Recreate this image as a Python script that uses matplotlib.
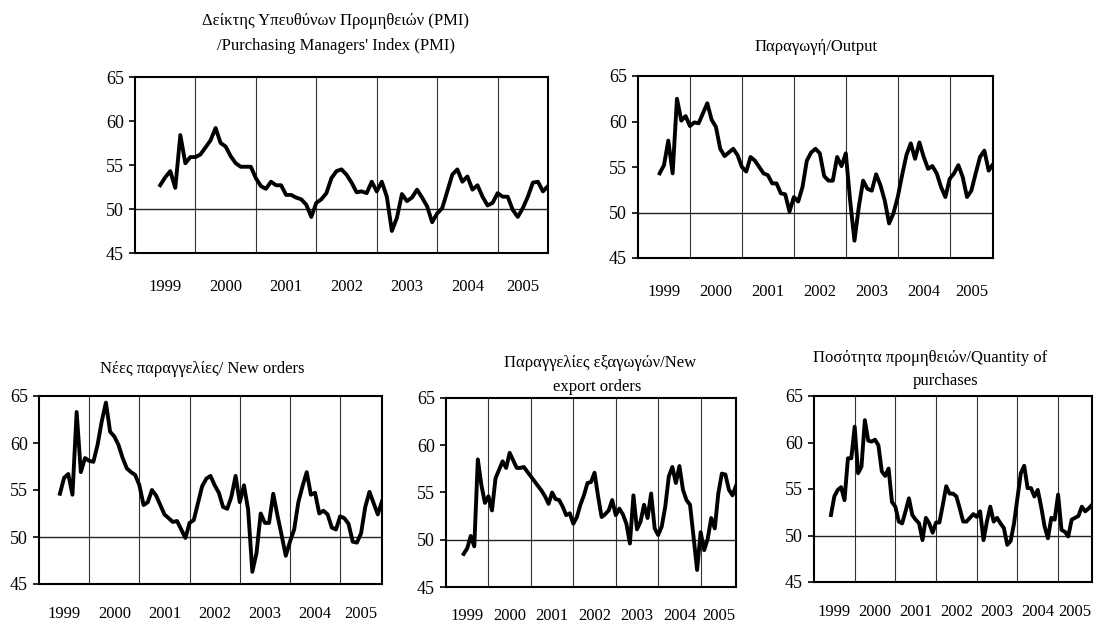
import matplotlib
matplotlib.use('Agg')
import matplotlib.pyplot as plt
import numpy as np
import pandas as pd

plt.rcParams['font.family'] = ['Liberation Serif', 'DejaVu Serif']

# monthly survey readings, June 1999 - November 2005
months = pd.date_range('1999-06-01', periods=78, freq='MS')
years = ['1999', '2000', '2001', '2002', '2003', '2004', '2005']

pmi = [52.7, 53.6, 54.3, 52.4, 58.4, 55.2, 55.9, 55.9, 56.2, 57.0,
       57.8, 59.2, 57.5, 57.1, 56.0, 55.2, 54.8, 54.8, 54.8, 53.5,
       52.6, 52.3, 53.1, 52.7, 52.7, 51.6, 51.6, 51.3, 51.1, 50.5,
       49.1, 50.7, 51.1, 51.8, 53.5, 54.3, 54.5, 53.9, 53.0, 51.9,
       52.0, 51.8, 53.1, 52.0, 53.1, 51.4, 47.5, 49.0, 51.7, 50.9,
       51.3, 52.2, 51.3, 50.3, 48.5, 49.5, 50.1, 52.0, 53.9, 54.5,
       53.1, 53.7, 52.2, 52.7, 51.4, 50.4, 50.7, 51.8, 51.4, 51.4,
       49.9, 49.1, 50.1, 51.4, 53.0, 53.1, 52.0, 52.6]

output = [54.3, 55.2, 57.9, 54.3, 62.5, 60.1, 60.6, 59.5, 59.9, 59.8,
          60.9, 62.0, 60.2, 59.4, 57.0, 56.2, 56.6, 57.0, 56.3, 55.0,
          54.5, 56.1, 55.7, 55.0, 54.3, 54.1, 53.2, 53.2, 52.1, 52.0,
          50.1, 51.7, 51.2, 52.8, 55.7, 56.6, 57.0, 56.5, 54.0, 53.5,
          53.5, 56.1, 55.1, 56.5, 51.3, 46.9, 50.6, 53.5, 52.6, 52.4,
          54.2, 53.0, 51.3, 48.8, 49.9, 51.7, 54.1, 56.3, 57.6, 55.9,
          57.7, 56.1, 54.8, 55.1, 54.3, 52.8, 51.7, 53.7, 54.3, 55.2,
          53.9, 51.7, 52.4, 54.3, 56.1, 56.8, 54.6, 55.3]

new_orders = [54.6, 56.3, 56.7, 54.5, 63.3, 56.9, 58.4, 58.1, 58.0, 59.8,
              62.3, 64.3, 61.2, 60.7, 59.8, 58.4, 57.3, 56.9, 56.6, 55.5,
              53.4, 53.7, 55.0, 54.4, 53.4, 52.4, 52.0, 51.6, 51.7, 50.8,
              49.9, 51.5, 51.8, 53.6, 55.4, 56.2, 56.5, 55.5, 54.7, 53.2,
              53.0, 54.3, 56.5, 53.7, 55.5, 52.9, 46.3, 48.3, 52.5, 51.5,
              51.5, 54.6, 52.3, 50.2, 48.0, 49.5, 50.8, 53.7, 55.4, 56.9,
              54.5, 54.7, 52.5, 52.8, 52.4, 51.0, 50.8, 52.2, 52.0, 51.4,
              49.5, 49.4, 50.4, 53.2, 54.8, 53.6, 52.4, 53.8]

export_orders = [48.5, 49.1, 50.4, 49.3, 58.5, 55.8, 53.9, 54.6, 53.1, 56.5,
                 57.4, 58.3, 57.6, 59.2, 58.4, 57.6, 57.6, 57.7, 57.2, 56.7,
                 56.2, 55.7, 55.2, 54.6, 53.8, 55.0, 54.3, 54.2, 53.5, 52.6,
                 52.8, 51.7, 52.4, 53.7, 54.7, 56.0, 56.1, 57.1, 54.6, 52.4,
                 52.7, 53.1, 54.2, 52.6, 53.3, 52.7, 51.7, 49.6, 54.7, 51.1,
                 51.9, 53.7, 52.3, 54.9, 51.2, 50.5, 51.4, 53.5, 56.7, 57.7,
                 56.0, 57.8, 55.3, 54.2, 53.7, 50.3, 46.8, 50.8, 48.9, 50.1,
                 52.3, 51.2, 54.9, 57.0, 56.9, 55.3, 54.7, 55.7]

purchases = [52.2, 54.2, 54.9, 55.2, 53.8, 58.3, 58.3, 61.7, 56.7, 57.4,
             62.4, 60.2, 60.1, 60.3, 59.7, 56.9, 56.4, 57.2, 53.6, 53.1,
             51.5, 51.3, 52.6, 54.0, 52.2, 51.7, 51.3, 49.5, 51.9, 51.3,
             50.3, 51.4, 51.4, 53.3, 55.3, 54.5, 54.5, 54.2, 52.9, 51.5,
             51.5, 51.9, 52.3, 52.0, 52.6, 49.5, 51.5, 53.1, 51.5, 51.9,
             51.3, 50.8, 49.0, 49.4, 51.3, 54.0, 56.7, 57.5, 55.1, 55.1,
             54.2, 54.9, 53.1, 51.0, 49.7, 51.9, 51.7, 54.4, 50.6, 50.4,
             49.9, 51.7, 51.9, 52.1, 53.1, 52.6, 52.9, 53.3]

# month index counted from January 1999
x = (months.year - 1999) * 12 + months.month - 1
x_end = x[-1]
edges = list(range(0, 84, 12)) + [x_end]
year_centers = [(a + b) / 2 for a, b in zip(edges[:-1], edges[1:])]

W, H = 1097, 625
fig = plt.figure(figsize=(W / 100, H / 100), dpi=100)


def px_rect(left, top, right, bottom):
    return [left / W, 1 - bottom / H, (right - left) / W, (bottom - top) / H]


def draw(rect, values, year_pad=19):
    ax = fig.add_axes(px_rect(*rect))
    ax.plot(x, values, color='black', lw=2.8, solid_joinstyle='round', zorder=3)
    ax.set_xlim(0, x_end)
    ax.set_ylim(45, 65)
    ax.set_yticks(range(45, 66, 5))
    ax.set_xticks(edges[1:-1])
    ax.set_xticklabels([])
    ax.set_xticks(year_centers, minor=True)
    ax.set_xticklabels(years, minor=True)
    ax.tick_params(axis='x', which='both', length=0)
    ax.tick_params(axis='x', which='minor', pad=year_pad, labelsize=12)
    ax.tick_params(axis='y', length=4, width=1.2, pad=4, labelsize=13)
    ax.grid(axis='x', which='major', color='#333333', lw=0.8)
    ax.axhline(50, color='#222222', lw=1.0, zorder=2)
    for s in ax.spines.values():
        s.set_linewidth(1.5)
    return ax


def title(cx, base, text):
    fig.text(cx / W, 1 - base / H, text, ha='center', va='baseline', fontsize=12)


draw((135, 77, 548, 253), pmi)
title(336, 25, 'Δείκτης Υπευθύνων Προμηθειών (PMI)')
title(336, 50, "/Purchasing Managers' Index (PMI)")

draw((638, 76, 993, 258), output)
title(816, 51, 'Παραγωγή/Output')

draw((39, 396, 382, 584), new_orders, year_pad=16)
title(202, 373, 'Νέες παραγγελίες/ New orders')

draw((446, 398, 736, 587), export_orders, year_pad=15)
title(600, 367, 'Παραγγελίες εξαγωγών/New')
title(597, 391, 'export orders')

draw((814, 396, 1092, 582), purchases, year_pad=16)
title(930, 362, 'Ποσότητα προμηθειών/Quantity of')
title(946, 385, 'purchases')

fig.savefig('out.png', dpi=100)
